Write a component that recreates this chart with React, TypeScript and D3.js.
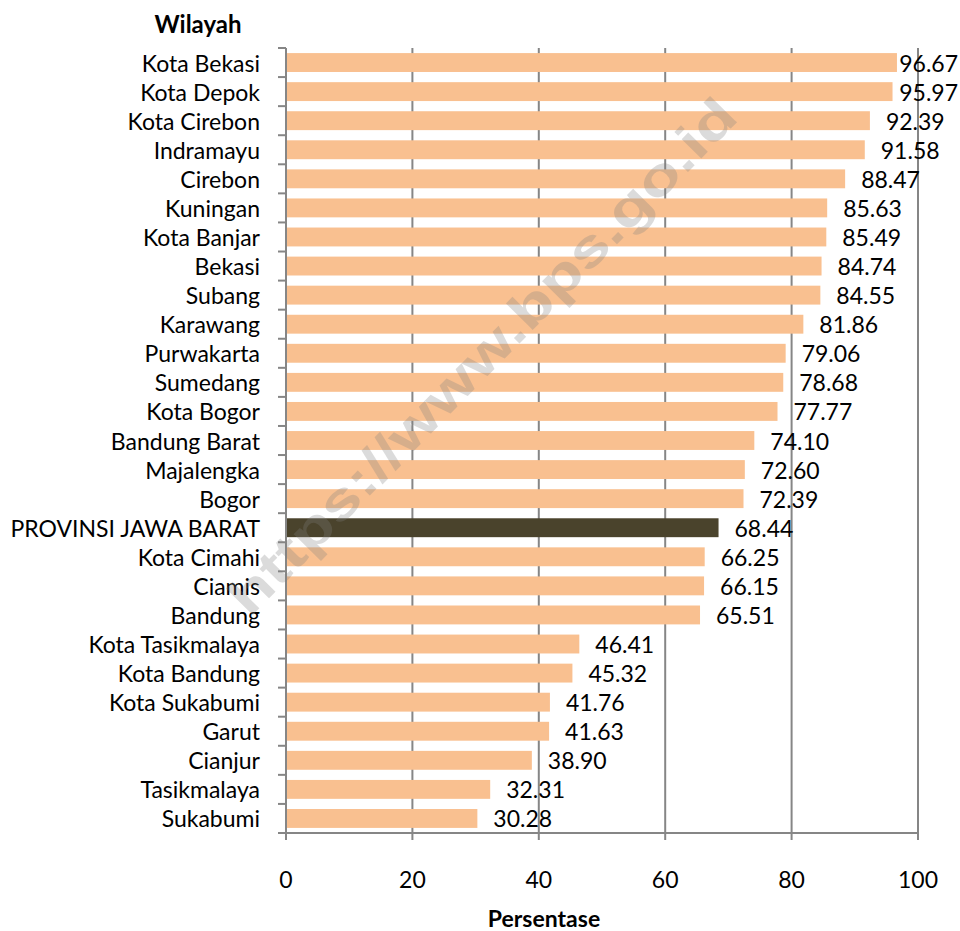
import React from "react";
import * as d3 from "d3";

// regions, top to bottom
const regions = [
  "Kota Bekasi", "Kota Depok", "Kota Cirebon", "Indramayu", "Cirebon", "Kuningan",
  "Kota Banjar", "Bekasi", "Subang", "Karawang", "Purwakarta", "Sumedang",
  "Kota Bogor", "Bandung Barat", "Majalengka", "Bogor", "PROVINSI JAWA BARAT",
  "Kota Cimahi", "Ciamis", "Bandung", "Kota Tasikmalaya", "Kota Bandung",
  "Kota Sukabumi", "Garut", "Cianjur", "Tasikmalaya", "Sukabumi",
];
const values = [
  96.67, 95.97, 92.39, 91.58, 88.47, 85.63, 85.49, 84.74, 84.55, 81.86, 79.06, 78.68,
  77.77, 74.10, 72.60, 72.39, 68.44, 66.25, 66.15, 65.51, 46.41, 45.32, 41.76, 41.63,
  38.90, 32.31, 30.28,
];
const xTicks = [0, 20, 40, 60, 80, 100];
const highlight = "PROVINSI JAWA BARAT";

const W = 960;
const H = 931;
const FONT = "Lato, 'Open Sans', sans-serif";

export default function App() {
  const x = d3.scaleLinear().domain([0, 100]).range([286, 918]);
  const y = d3.scaleBand<string>().domain(regions).range([48, 833])
    .paddingInner(0.35).paddingOuter(0.175);
  const top = 48, bottom = 833;
  const step = y.step();
  const labelW = 60;

  return (
    <svg width={W} height={H} style={{ position: "absolute", left: 0, top: 0 }} fontFamily={FONT}>
      <rect width={W} height={H} fill="#fff" />
      {/* gridlines */}
      {xTicks.slice(1).map(t => (
        <line key={t} x1={x(t)} x2={x(t)} y1={top} y2={bottom + 7} stroke="#868686" strokeWidth={2} />
      ))}
      {/* bars */}
      {regions.map((r, i) => (
        <rect key={r} x={x(0)} y={y(r)} width={x(values[i]) - x(0)} height={y.bandwidth()}
          fill={r === highlight ? "#4A432C" : "#F9C090"} />
      ))}
      {/* y axis */}
      <line x1={x(0)} x2={x(0)} y1={top} y2={bottom + 7} stroke="#868686" strokeWidth={2} />
      {d3.range(regions.length + 1).map(i => (
        <line key={i} x1={x(0) - 8} x2={x(0)} y1={top + i * step} y2={top + i * step}
          stroke="#868686" strokeWidth={2} />
      ))}
      {/* x axis */}
      <line x1={x(0)} x2={x(100)} y1={bottom} y2={bottom} stroke="#868686" strokeWidth={2} />
      {xTicks.map(t => (
        <text key={t} x={x(t)} y={879} textAnchor="middle" dominantBaseline="central" fontSize={23}>{t}</text>
      ))}
      {/* category labels */}
      {regions.map(r => (
        <text key={r} x={260} y={(y(r) as number) + y.bandwidth() / 2} textAnchor="end"
          dominantBaseline="central" fontSize={23}>{r}</text>
      ))}
      {/* value labels */}
      {regions.map((r, i) => {
        const start = x(values[i]) + 16;
        const clamp = start + labelW > 958;
        return (
          <text key={r} x={clamp ? 958 : start} y={(y(r) as number) + y.bandwidth() / 2}
            textAnchor={clamp ? "end" : "start"} dominantBaseline="central" fontSize={23}>
            {values[i].toFixed(2)}
          </text>
        );
      })}
      <text x={198} y={23} textAnchor="middle" dominantBaseline="central" fontSize={24} fontWeight="bold">Wilayah</text>
      <text x={544} y={927} textAnchor="middle" fontSize={23} fontWeight="bold">Persentase</text>
      {/* watermark */}
      <text x={482} y={356} textAnchor="middle" dominantBaseline="central" fontSize={52} fontWeight="bold"
        fontFamily="'Liberation Sans', Arial, sans-serif" fill="#808080" opacity={0.28}
        textLength={700} lengthAdjust="spacingAndGlyphs" transform="rotate(-45.5 482 356)">
        https://www.bps.go.id
      </text>
    </svg>
  );
}
